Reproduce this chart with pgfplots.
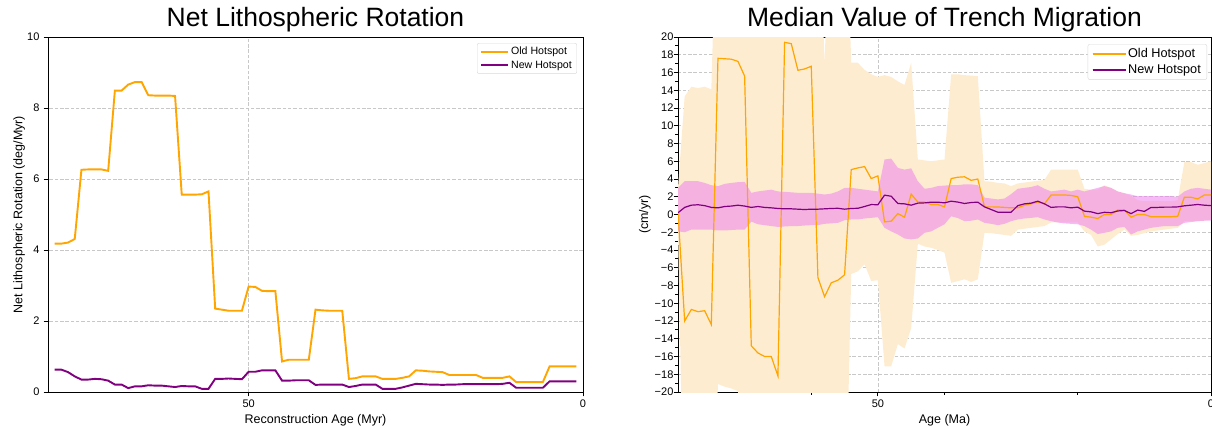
\documentclass[border=0pt]{standalone}
\usepackage{fontspec}
\setmainfont{Liberation Sans}
\usepackage{pgfplots}
\pgfplotsset{compat=1.18}
\usepackage{pgfplotstable}

\definecolor{hsorange}{RGB}{255,165,0}
\definecolor{hspurple}{RGB}{128,0,128}
\definecolor{bandorange}{RGB}{254,236,208}
\definecolor{bandpink}{RGB}{238,130,238}
\definecolor{gridgray}{RGB}{200,200,200}

\pgfplotstableread{
age old new
79 4.18 0.63
78 4.18 0.63
77 4.21 0.56
76 4.31 0.44
75 6.26 0.35
74 6.27 0.35
73 6.27 0.37
72 6.27 0.36
71 6.23 0.32
70 8.49 0.21
69 8.49 0.21
68 8.66 0.11
67 8.73 0.16
66 8.73 0.16
65 8.36 0.19
64 8.35 0.18
63 8.35 0.18
62 8.35 0.16
61 8.34 0.14
60 5.56 0.17
59 5.56 0.16
58 5.56 0.16
57 5.57 0.09
56 5.65 0.09
55 2.35 0.37
54 2.32 0.37
53 2.29 0.38
52 2.29 0.37
51 2.29 0.36
50 2.97 0.57
49 2.96 0.57
48 2.85 0.61
47 2.84 0.61
46 2.84 0.61
45 0.86 0.32
44 0.91 0.32
43 0.91 0.33
42 0.91 0.33
41 0.91 0.33
40 2.32 0.20
39 2.30 0.21
38 2.29 0.21
37 2.29 0.21
36 2.29 0.21
35 0.37 0.14
34 0.39 0.17
33 0.44 0.21
32 0.44 0.21
31 0.44 0.21
30 0.37 0.09
29 0.37 0.09
28 0.37 0.09
27 0.40 0.13
26 0.44 0.18
25 0.61 0.23
24 0.60 0.22
23 0.58 0.21
22 0.57 0.21
21 0.56 0.20
20 0.48 0.21
19 0.48 0.21
18 0.48 0.22
17 0.48 0.22
16 0.48 0.22
15 0.40 0.22
14 0.40 0.22
13 0.40 0.22
12 0.40 0.23
11 0.44 0.26
10 0.28 0.12
9 0.28 0.12
8 0.28 0.12
7 0.28 0.12
6 0.28 0.12
5 0.72 0.30
4 0.72 0.30
3 0.72 0.30
2 0.72 0.30
1 0.72 0.30
}\lefttab

\pgfplotstableread{
age old new
80 0.3 0.2
79 -12.0 0.8
78 -10.7 1.05
77 -10.95 1.1
76 -10.84 1.0
75 -12.4 0.8
74 17.6 0.75
73 17.55 0.9
72 17.5 0.95
71 17.25 1.05
70 15.6 0.95
69 -14.8 0.8
68 -15.6 0.9
67 -16.0 0.8
66 -16.0 0.75
65 -18.2 0.68
64 19.4 0.64
63 19.25 0.64
62 16.25 0.6
61 16.4 0.56
60 16.7 0.6
59 -7.1 0.6
58 -9.26 0.64
57 -7.7 0.68
56 -7.4 0.7
55 -6.8 0.6
54 5.06 0.68
53 5.25 0.7
52 5.4 0.9
51 4.05 1.12
50 4.35 1.1
49 -0.83 2.18
48 -0.75 2.06
47 0.1 1.24
46 -0.3 1.2
45 2.3 1.05
44 1.4 1.28
43 1.4 1.31
42 1.13 1.39
41 1.13 1.39
40 0.86 1.31
39 4.05 1.5
38 4.2 1.4
37 4.25 1.24
36 3.85 1.35
35 4.0 1.39
34 0.86 0.86
33 0.86 0.56
32 0.85 0.26
31 0.8 0.26
30 0.75 0.26
29 0.75 1.0
28 1.05 1.2
27 1.2 1.28
26 1.4 1.5
25 1.2 1.2
24 2.2 0.8
23 2.2 0.86
22 2.2 0.86
21 2.15 0.75
20 2.0 0.83
19 -0.2 0.38
18 -0.3 0.3
17 -0.45 0.1
16 0.0 0.25
15 0.0 0.2
14 0.5 0.4
13 0.5 0.45
12 -0.3 0.1
11 0.0 0.5
10 0.0 0.35
9 -0.25 0.8
8 -0.25 0.8
7 -0.25 0.83
6 -0.25 0.83
5 -0.2 0.86
4 1.95 0.98
3 1.95 1.05
2 1.75 1.13
1 2.2 1.05
0 2.2 1.0
}\righttab

% outline of the Old Hotspot spread: upper edge 80->0, then lower edge 0->80
\pgfplotstableread{
age v
80 3.0
79 13.3
78 14.4
77 14.25
76 14.4
75 14.1
74 40
59 40
58 16.9
57 40
55 40
54 17.1
53 17.1
52 16.3
51 15.8
50 15.5
49 15.7
48 15.5
47 15.0
46 14.6
45 17.1
44 6.2
43 6.1
42 6.0
41 6.1
40 6.2
39 15.8
38 15.8
37 15.7
36 15.65
35 15.6
34 3.75
33 3.7
32 3.56
31 3.5
30 3.2
29 3.5
28 3.6
27 3.7
26 3.8
25 3.9
24 5.06
23 5.06
22 5.06
21 5.06
20 5.06
19 2.9
18 2.8
17 2.8
16 3.3
15 3.0
14 2.6
13 2.4
12 2.1
11 1.6
10 1.5
9 1.5
8 1.5
7 1.5
6 1.5
5 1.6
4 5.9
3 5.9
2 5.6
1 5.8
0 6.0
0 -0.6
1 -0.7
2 -0.75
3 -0.75
4 -0.75
5 -1.5
6 -1.6
7 -1.7
8 -1.8
9 -1.9
10 -2.1
11 -2.3
12 -2.4
13 -1.7
14 -2.2
15 -2.8
16 -3.4
17 -3.6
18 -2.3
19 -1.9
20 -0.9
21 -0.9
22 -0.9
23 -0.9
24 -0.9
25 -1.3
26 -1.4
27 -1.5
28 -1.6
29 -1.7
30 -2.4
31 -2.3
32 -2.2
33 -2.1
34 -2.06
35 -7.3
36 -7.6
37 -7.3
38 -7.5
39 -7.7
40 -4.3
41 -4.0
42 -3.75
43 -3.6
44 -3.3
45 -12.8
46 -15.1
47 -14.6
48 -17.1
49 -17.1
50 -7.4
51 -7.5
52 -5.6
53 -6.4
54 -6.7
55 -40
70 -40
71 -19.9
72 -19.6
73 -19.4
74 -19.1
75 -40
79 -40
80 -2.0
}\oldband

% outline of the New Hotspot spread
\pgfplotstableread{
age v
80 3.0
79 3.75
78 3.75
77 3.75
76 3.56
75 3.3
74 3.2
73 3.45
72 3.56
71 3.64
70 3.68
69 2.44
68 2.6
67 2.7
66 2.8
65 2.6
64 2.55
63 2.5
62 2.44
61 2.44
60 2.44
59 2.35
58 2.25
57 2.35
56 2.6
55 3.0
54 3.0
53 2.9
52 2.8
51 2.7
50 2.6
49 6.2
48 6.3
47 5.25
46 5.06
45 5.2
44 3.75
43 2.9
42 3.0
41 3.2
40 3.26
39 3.3
38 3.3
37 3.4
36 3.4
35 3.3
34 1.9
33 1.8
32 1.7
31 1.8
30 2.3
29 2.9
28 3.0
27 3.1
26 3.3
25 2.9
24 2.6
23 2.7
22 2.8
21 2.6
20 2.8
19 2.6
18 2.8
17 3.0
16 3.2
15 3.0
14 2.6
13 2.4
12 2.25
11 2.06
10 2.06
9 2.06
8 2.06
7 2.06
6 2.06
5 2.0
4 2.6
3 2.9
2 3.0
1 2.9
0 2.8
0 -0.7
1 -0.7
2 -0.75
3 -0.85
4 -0.94
5 -1.3
6 -1.3
7 -1.3
8 -1.4
9 -1.5
10 -1.7
11 -1.9
12 -2.25
13 -1.4
14 -1.5
15 -1.9
16 -2.06
17 -2.2
18 -1.7
19 -1.3
20 -1.1
21 -1.05
22 -1.0
23 -0.9
24 -0.75
25 -0.56
26 -0.3
27 -0.38
28 -0.45
29 -0.56
30 -0.75
31 -1.05
32 -1.2
33 -1.05
34 -0.94
35 -0.56
36 -0.7
37 -0.75
38 -0.4
39 -0.2
40 -1.1
41 -1.5
42 -1.9
43 -2.06
44 -2.7
45 -2.8
46 -2.7
47 -2.25
48 -1.9
49 -1.5
50 -0.3
51 -0.38
52 -0.45
53 -0.56
54 -0.56
55 -0.64
56 -0.94
57 -1.0
58 -1.05
59 -1.2
60 -1.2
61 -1.24
62 -1.3
63 -1.3
64 -1.35
65 -1.4
66 -1.3
67 -1.2
68 -1.1
69 -0.8
70 -1.7
71 -1.7
72 -1.75
73 -1.8
74 -1.8
75 -1.7
76 -1.7
77 -1.7
78 -1.7
79 -2.0
80 -1.9
}\newband

\pgfplotsset{
  panel/.style={
    scale only axis,
    width=533pt, height=355pt,
    x dir=reverse, xmin=0, xmax=80,
    axis line style={line width=0.9pt, black},
    tick align=outside, tick pos=left,
    major tick length=4.4pt, minor tick length=2.6pt,
    every tick/.style={line width=0.9pt, black},
    grid=major,
    major grid style={line width=0.7pt, gridgray, dash pattern=on 3.5pt off 1.8pt},
    xtick={0,50},
    /pgf/number format/assume math mode=true,
    ticklabel style={font=\fontsize{11}{13}\selectfont},
    xticklabel style={anchor=base, inner sep=0pt, yshift=-11.5pt},
    title style={font=\fontsize{26.5}{30}\selectfont, at={(0.5,1)}, anchor=base, yshift=4.6pt},
    xlabel style={font=\fontsize{12.5}{14}\selectfont, at={(0.5,0)}, anchor=base, yshift=-31.5pt},
    ylabel style={font=\fontsize{12.5}{14}\selectfont, at={(0,0.5)}, anchor=base},
    legend cell align=left,
  }
}

\begin{document}
\begin{tikzpicture}
\path[use as bounding box] (0pt,0pt) rectangle (1212pt,-429pt);

\begin{axis}[panel,
  at={(48pt,-392pt)}, anchor=south west,
  width=535pt,
  ymin=0, ymax=10, ytick={0,2,4,6,8,10},
  yticklabel style={anchor=east, inner sep=0pt, xshift=-4pt},
  title={Net Lithospheric Rotation},
  xlabel={Reconstruction Age (Myr)},
  ylabel={Net Lithospheric Rotation (deg/Myr)},
  ylabel style={yshift=25.7pt},
  legend style={at={(1,1)}, xshift=-6pt, yshift=-6pt, anchor=north east,
    draw=gray!30, rounded corners=2pt, fill=white,
    font=\fontsize{10.6}{12}\selectfont, inner xsep=3pt, inner ysep=2pt, row sep=0.5pt},
  legend image code/.code={\draw[#1] (0pt,0pt) -- (22pt,0pt); \path (0pt,0pt) -- (27pt,0pt);},
]
\addplot[hsorange, line width=1.9pt] table[x=age, y=old]{\lefttab};
\addlegendentry{Old Hotspot}
\addplot[hspurple, line width=1.9pt] table[x=age, y=new]{\lefttab};
\addlegendentry{New Hotspot}
\end{axis}

\begin{axis}[panel,
  at={(678pt,-392pt)}, anchor=south west,
  width=533pt,
  ymin=-20, ymax=20,
  ytick={-20,-18,...,20},
  yticklabels={−20,−18,−16,−14,−12,−10,−8,−6,−4,−2,0,2,4,6,8,10,12,14,16,18,20},
  minor ytick={-19,-17,...,19},
  minor xtick={20,40,60},
  yticklabel style={anchor=east, inner sep=0pt, xshift=0pt},
  title={Median Value of Trench Migration},
  xlabel={Age (Ma)},
  ylabel={(cm/yr)},
  ylabel style={yshift=30pt},
  legend style={at={(1,1)}, xshift=-4pt, yshift=-7pt, anchor=north east,
    draw=gray!30, rounded corners=2pt, fill=white,
    font=\fontsize{12.7}{14}\selectfont, inner xsep=4pt, inner ysep=2.5pt, row sep=1.5pt},
  legend image code/.code={\draw[#1] (0pt,0pt) -- (27pt,0pt); \path (0pt,0pt) -- (33pt,0pt);},
]
\addplot[draw=none, fill=bandorange, forget plot] table[x=age, y=v]{\oldband} -- cycle;
\addplot[draw=none, fill=bandpink, fill opacity=0.55, forget plot] table[x=age, y=v]{\newband} -- cycle;
\addplot[hsorange, line width=1.2pt] table[x=age, y=old]{\righttab};
\addlegendentry{Old Hotspot}
\addplot[hspurple, line width=1.2pt] table[x=age, y=new]{\righttab};
\addlegendentry{New Hotspot}
\end{axis}
\end{tikzpicture}
\end{document}
